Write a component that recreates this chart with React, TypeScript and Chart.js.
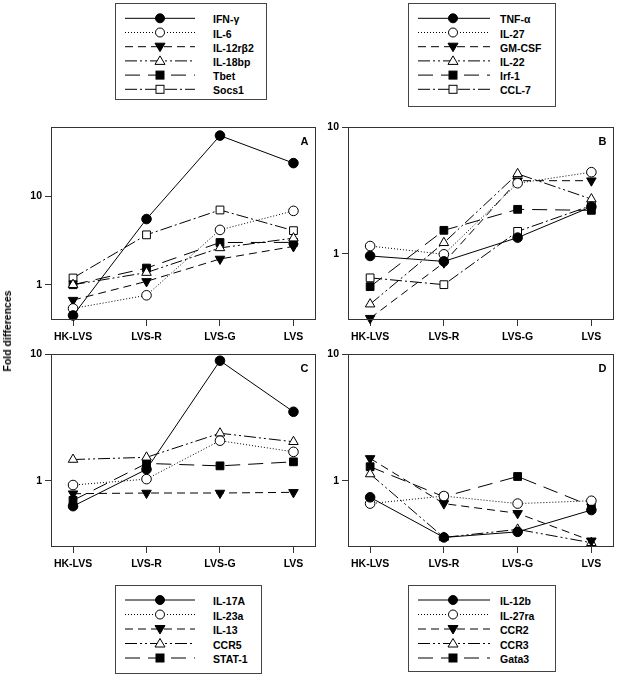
import React, { useEffect, useRef } from "react";
import { Chart, registerables } from "chart.js";
Chart.register(...registerables);

const FONT = "'Liberation Sans', Arial, sans-serif";

const CATEGORIES = ["HK-LVS", "LVS-R", "LVS-G", "LVS"];
const Y_TICKS = [1, 10];

// Panel A
const A_NAMES = ["IFN-γ", "IL-6", "IL-12rβ2", "IL-18bp", "Tbet", "Socs1"];
const A_IFNG = [0.45, 5.5, 48, 23.5];
const A_IL6 = [0.54, 0.76, 4.15, 6.8];
const A_IL12RB2 = [0.67, 1.09, 1.95, 2.7];
const A_IL18BP = [1.0, 1.37, 2.6, 3.35];
const A_TBET = [1.0, 1.54, 2.99, 3.0];
const A_SOCS1 = [1.19, 3.65, 6.96, 4.07];

// Panel B
const B_NAMES = ["TNF-α", "IL-27", "GM-CSF", "IL-22", "Irf-1", "CCL-7"];
const B_TNFA = [0.96, 0.87, 1.34, 2.35];
const B_IL27 = [1.15, 0.99, 3.6, 4.4];
const B_GMCSF = [0.31, 0.85, 3.77, 3.77];
const B_IL22 = [0.4, 1.22, 4.27, 2.7];
const B_IRF1 = [0.55, 1.53, 2.24, 2.2];
const B_CCL7 = [0.645, 0.57, 1.5, 2.4];

// Panel C
const C_NAMES = ["IL-17A", "IL-23a", "IL-13", "CCR5", "STAT-1"];
const C_IL17A = [0.63, 1.23, 8.85, 3.5];
const C_IL23A = [0.925, 1.03, 2.07, 1.69];
const C_IL13 = [0.79, 0.8, 0.8, 0.81];
const C_CCR5 = [1.47, 1.53, 2.37, 2.03];
const C_STAT1 = [0.7, 1.37, 1.31, 1.41];

// Panel D
const D_NAMES = ["IL-12b", "IL-27ra", "CCR2", "CCR3", "Gata3"];
const D_IL12B = [0.74, 0.357, 0.395, 0.587];
const D_IL27RA = [0.66, 0.757, 0.66, 0.695];
const D_CCR2 = [1.5, 0.66, 0.553, 0.336];
const D_CCR3 = [1.13, 0.357, 0.413, 0.324];
const D_GATA3 = [1.29, 0.748, 1.08, 0.63];

type Style = { pointStyle: string; fill: boolean; dash: number[]; radius: number; rotation: number };
const STYLES: Style[] = [
  { pointStyle: "circle", fill: true, dash: [], radius: 4.8, rotation: 0 },
  { pointStyle: "circle", fill: false, dash: [1, 2], radius: 4.8, rotation: 0 },
  { pointStyle: "triangle", fill: true, dash: [8, 5], radius: 5.5, rotation: 180 },
  { pointStyle: "triangle", fill: false, dash: [12, 3, 2, 3, 2, 3], radius: 5.5, rotation: 0 },
  { pointStyle: "rect", fill: true, dash: [15, 8], radius: 5.5, rotation: 0 },
  { pointStyle: "rect", fill: false, dash: [12, 3, 2, 3], radius: 5.5, rotation: 0 },
];

const framePlugin = {
  id: "frame",
  afterDraw(chart: any, _args: any, opts: any) {
    const { ctx, chartArea: a } = chart;
    ctx.save();
    ctx.strokeStyle = "#333";
    ctx.lineWidth = 1;
    const l = Math.round(a.left) + 0.5;
    const t = Math.round(a.top) + 0.5;
    const r = Math.round(a.right) - 0.5;
    const b = Math.round(a.bottom) - 0.5;
    ctx.strokeRect(l, t, r - l, b - t);
    ctx.fillStyle = "#000";
    ctx.font = `bold 11px ${FONT}`;
    ctx.textAlign = "center";
    ctx.textBaseline = "middle";
    ctx.fillText(opts.letter || "", a.right - 11, a.top + 15);
    ctx.restore();
  },
};

type PanelProps = {
  left: number; top: number; width: number; height: number;
  yAxisWidth: number; padTop: number; padRight: number; xAxisHeight: number;
  yMin: number; yMax: number; letter: string;
  names: string[]; series: number[][];
};

function Panel(p: PanelProps) {
  const ref = useRef<HTMLCanvasElement>(null);
  useEffect(() => {
    if (!ref.current) return;
    const tickFont = { family: FONT, size: 10.5, weight: "bold" as const };
    const chart = new Chart(ref.current, {
      type: "line",
      data: {
        datasets: p.series.map((vals, i) => {
          const st = STYLES[i];
          return {
            label: p.names[i],
            data: vals.map((v, j) => ({ x: j, y: v })),
            borderColor: "#000",
            borderWidth: 1,
            borderDash: st.dash,
            pointStyle: st.pointStyle as any,
            pointRadius: st.radius,
            pointRotation: st.rotation,
            pointBackgroundColor: st.fill ? "#000" : "#fff",
            pointBorderColor: "#000",
            pointBorderWidth: 1,
            fill: false,
            tension: 0,
            clip: false as any,
          };
        }),
      },
      options: {
        animation: false,
        responsive: false,
        layout: { padding: { top: p.padTop, right: p.padRight, left: 0, bottom: 0 } },
        plugins: {
          legend: { display: false },
          tooltip: { enabled: false },
          frame: { letter: p.letter },
        } as any,
        scales: {
          x: {
            type: "linear",
            min: -0.3,
            max: 3.3,
            afterBuildTicks: (s: any) => {
              s.ticks = CATEGORIES.map((_, i) => ({ value: i }));
            },
            afterFit: (s: any) => {
              s.height = p.xAxisHeight;
            },
            ticks: {
              callback: (v: any) => CATEGORIES[Number(v)] ?? "",
              font: tickFont,
              color: "#000",
              padding: 5,
              maxRotation: 0,
              autoSkip: false,
            },
            grid: { drawOnChartArea: false, drawTicks: true, tickLength: 6, tickColor: "#333" },
            border: { display: false },
          },
          y: {
            type: "logarithmic",
            min: p.yMin,
            max: p.yMax,
            afterBuildTicks: (s: any) => {
              s.ticks = Y_TICKS.filter((v) => v >= p.yMin && v <= p.yMax).map((v) => ({ value: v }));
            },
            afterFit: (s: any) => {
              s.width = p.yAxisWidth;
            },
            ticks: {
              callback: (v: any) => String(v),
              font: tickFont,
              color: "#000",
              padding: 3,
              autoSkip: false,
            },
            grid: { drawOnChartArea: false, drawTicks: true, tickLength: 6, tickColor: "#333" },
            border: { display: false },
          },
        },
      } as any,
      plugins: [framePlugin],
    });
    return () => chart.destroy();
  }, []);
  return (
    <canvas
      ref={ref}
      width={p.width}
      height={p.height}
      style={{ position: "absolute", left: p.left, top: p.top, width: p.width, height: p.height, display: "block" }}
    />
  );
}

function Marker({ st, x, y }: { st: Style; x: number; y: number }) {
  const fill = st.fill ? "#000" : "#fff";
  if (st.pointStyle === "circle") return <circle cx={x} cy={y} r={4.5} fill={fill} stroke="#000" strokeWidth={1} />;
  if (st.pointStyle === "rect") return <rect x={x - 4} y={y - 4} width={8} height={8} fill={fill} stroke="#000" strokeWidth={1} />;
  if (st.rotation === 180)
    return <polygon points={`${x - 5},${y - 3.5} ${x + 5},${y - 3.5} ${x},${y + 5}`} fill={fill} stroke="#000" strokeWidth={1} />;
  return <polygon points={`${x - 5},${y + 3.5} ${x + 5},${y + 3.5} ${x},${y - 5}`} fill={fill} stroke="#000" strokeWidth={1} />;
}

type LegendProps = {
  left: number; top: number; width: number; height: number;
  names: string[]; rowY0: number; rowStep: number;
  lineX0: number; lineX1: number; markerX: number; textX: number;
};

function Legend(p: LegendProps) {
  return (
    <div
      style={{
        position: "absolute", left: p.left, top: p.top, width: p.width, height: p.height,
        border: "1px solid #444", boxSizing: "border-box", background: "#fff",
      }}
    >
      <svg width={p.width} height={p.height} style={{ position: "absolute", left: -1, top: -1 }}>
        {p.names.map((_, i) => {
          const y = p.rowY0 + i * p.rowStep;
          const st = STYLES[i];
          return (
            <g key={i}>
              <line
                x1={p.lineX0} x2={p.lineX1} y1={y} y2={y}
                stroke="#000" strokeWidth={1}
                strokeDasharray={st.dash.length ? st.dash.join(" ") : undefined}
              />
              <Marker st={st} x={p.markerX} y={y} />
            </g>
          );
        })}
      </svg>
      {p.names.map((n, i) => (
        <div
          key={i}
          style={{
            position: "absolute", left: p.textX - 1, top: p.rowY0 + i * p.rowStep - 8, height: 16,
            lineHeight: "16px", fontFamily: FONT, fontWeight: "bold", fontSize: 10.5, color: "#000", whiteSpace: "nowrap",
          }}
        >
          {n}
        </div>
      ))}
    </div>
  );
}

export default function App() {
  return (
    <div style={{ position: "absolute", left: 0, top: 0, width: 620, height: 678, background: "#fff", overflow: "hidden" }}>
      <Legend left={115} top={3} width={152} height={97} names={A_NAMES} rowY0={15.3} rowStep={14.2} lineX0={10} lineX1={80} markerX={45} textX={98} />
      <Legend left={408} top={3} width={148} height={104} names={B_NAMES} rowY0={15.3} rowStep={14.2} lineX0={10} lineX1={82} markerX={45} textX={92} />
      <Panel left={0} top={117} width={322} height={231} yAxisWidth={51} padTop={10} padRight={4} xAxisHeight={28}
        yMin={0.4} yMax={60} letter="A" names={A_NAMES}
        series={[A_IFNG, A_IL6, A_IL12RB2, A_IL18BP, A_TBET, A_SOCS1]} />
      <Panel left={300} top={117} width={320} height={231} yAxisWidth={48} padTop={10} padRight={3} xAxisHeight={28}
        yMin={0.3} yMax={10} letter="B" names={B_NAMES}
        series={[B_TNFA, B_IL27, B_GMCSF, B_IL22, B_IRF1, B_CCL7]} />
      <Panel left={0} top={344} width={322} height={231} yAxisWidth={51} padTop={10} padRight={4} xAxisHeight={28}
        yMin={0.3} yMax={10} letter="C" names={C_NAMES}
        series={[C_IL17A, C_IL23A, C_IL13, C_CCR5, C_STAT1]} />
      <Panel left={300} top={344} width={320} height={231} yAxisWidth={48} padTop={10} padRight={3} xAxisHeight={28}
        yMin={0.3} yMax={10} letter="D" names={D_NAMES}
        series={[D_IL12B, D_IL27RA, D_CCR2, D_CCR3, D_GATA3]} />
      <Legend left={115} top={585} width={147} height={89} names={C_NAMES} rowY0={15} rowStep={14.5} lineX0={10} lineX1={80} markerX={45} textX={98} />
      <Legend left={408} top={585} width={148} height={87} names={D_NAMES} rowY0={15} rowStep={14.5} lineX0={10} lineX1={82} markerX={45} textX={92} />
      <div
        style={{
          position: "absolute", left: 6.5, top: 331, transform: "translate(-50%, -50%) rotate(-90deg)",
          whiteSpace: "nowrap", fontFamily: FONT, fontWeight: "bold", fontSize: 10.5, color: "#000",
        }}
      >
        Fold differences
      </div>
    </div>
  );
}
